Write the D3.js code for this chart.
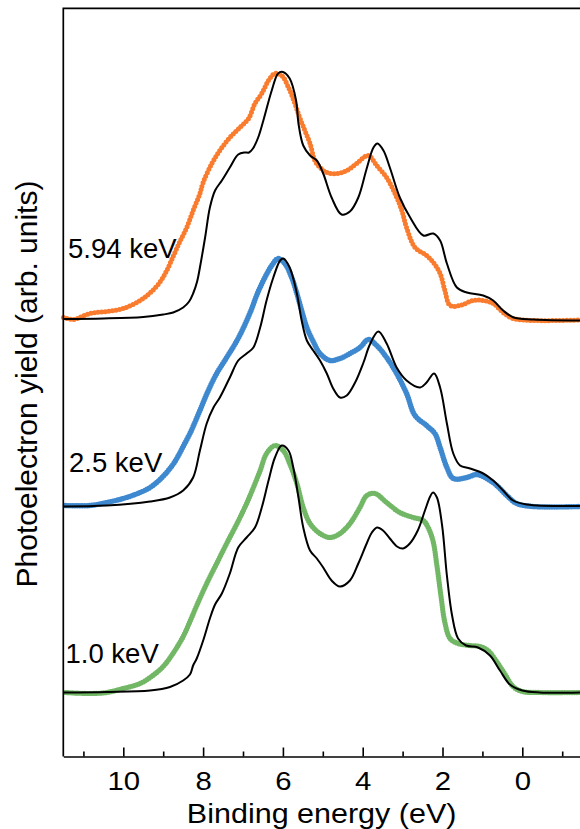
<!DOCTYPE html>
<html><head><meta charset="utf-8">
<script src="https://cdn.jsdelivr.net/npm/d3@7"></script>
<style>
body{margin:0;background:#fff}
svg{display:block}
text{font-family:"Liberation Sans",Arial,sans-serif;fill:#000}
</style>
</head><body>
<svg id="c" width="580" height="829"></svg>
<script>
// ---- data (binding energy in eV, yield in arb. units above each baseline) ----
const seriesLabels = ["5.94 keV", "2.5 keV", "1.0 keV"];
const offsets = [43.6, 25.0, 6.4];
const colors = ["#f97b2d", "#3d88cf", "#72b765"];
const majorTicks = [10, 8, 6, 4, 2, 0];
const minorTicks = [11, 9, 7, 5, 3, 1, -1];

const exp594 = [[11.50,0.3],[11.26,0.1],[10.83,0.7],[10.42,0.9],[10.00,1.2],[9.58,2.0],[9.33,2.75],[9.08,3.85],[8.91,5.0],[8.74,6.5],[8.58,7.9],[8.41,9.3],[8.25,11.0],[8.08,12.7],[8.00,13.8],[7.78,15.7],[7.58,17.0],[7.33,18.3],[7.08,19.3],[6.86,20.2],[6.70,21.7],[6.53,22.7],[6.36,24.0],[6.20,24.7],[6.03,24.5],[5.86,23.3],[5.70,21.7],[5.58,20.3],[5.45,19.0],[5.32,17.7],[5.20,16.0],[5.07,15.3],[4.90,14.8],[4.65,14.7],[4.40,15.0],[4.15,15.7],[3.86,16.5],[3.65,15.5],[3.40,14.3],[3.19,12.7],[3.02,11.0],[2.90,9.3],[2.69,7.3],[2.40,6.5],[2.23,5.8],[2.06,4.7],[1.94,3.0],[1.81,1.5],[1.56,1.5],[1.23,2.0],[0.98,2.0],[0.73,1.7],[0.48,0.8],[0.23,0.2],[-0.28,0.0],[-1.45,0.05]];
const theo594 = [[11.50,0.15],[10.50,0.2],[9.50,0.35],[9.00,0.6],[8.75,0.8],[8.50,1.3],[8.35,1.9],[8.25,2.7],[8.15,3.9],[8.08,5.3],[7.95,8.3],[7.83,11.3],[7.70,13.0],[7.53,14.0],[7.33,15.3],[7.12,16.6],[6.95,16.8],[6.85,16.8],[6.75,17.2],[6.62,18.3],[6.49,20.0],[6.28,23.0],[6.12,24.7],[6.00,24.85],[5.83,24.2],[5.67,22.0],[5.61,19.7],[5.49,17.5],[5.32,16.5],[5.15,16.0],[4.99,14.7],[4.78,12.3],[4.53,10.6],[4.32,10.9],[4.11,12.3],[3.90,15.2],[3.73,17.3],[3.63,17.7],[3.48,17.0],[3.32,15.3],[3.07,12.3],[2.81,10.3],[2.48,8.5],[2.23,8.7],[2.06,8.0],[1.89,5.7],[1.64,3.3],[1.39,2.8],[0.98,2.5],[0.73,2.0],[0.48,1.0],[0.23,0.33],[-0.28,0.1],[-1.45,0.0]];

const exp25 = [[11.45,0.1],[10.83,0.1],[10.42,0.4],[10.00,0.8],[9.58,1.4],[9.33,1.9],[9.08,2.7],[8.83,3.8],[8.66,4.8],[8.50,6.0],[8.33,7.3],[8.25,8.0],[8.08,9.6],[7.87,11.6],[7.66,13.3],[7.41,14.9],[7.15,16.6],[6.94,18.3],[6.77,19.9],[6.66,21.1],[6.49,22.6],[6.28,24.1],[6.12,24.8],[5.95,24.3],[5.78,22.9],[5.65,21.3],[5.53,19.6],[5.40,17.9],[5.24,16.5],[5.07,15.3],[4.82,14.6],[4.57,14.8],[4.32,15.3],[4.07,15.9],[3.86,16.7],[3.65,16.1],[3.40,14.9],[3.15,13.3],[2.90,11.3],[2.69,9.1],[2.40,8.1],[2.19,7.3],[2.06,5.9],[1.89,3.9],[1.73,2.8],[1.39,2.9],[1.14,3.2],[0.89,2.8],[0.64,2.1],[0.39,1.1],[0.14,0.3],[-0.28,0.0],[-1.45,0.0]];
const theo25 = [[11.50,0.0],[10.42,0.1],[9.33,0.5],[8.83,0.9],[8.50,1.6],[8.25,2.9],[8.08,5.6],[7.91,8.3],[7.74,9.9],[7.58,10.9],[7.33,12.9],[7.12,14.6],[6.91,15.3],[6.74,15.9],[6.57,17.9],[6.41,20.6],[6.24,22.9],[6.07,24.6],[5.99,24.8],[5.83,23.9],[5.65,21.3],[5.53,18.6],[5.40,16.6],[5.24,15.6],[5.07,14.6],[4.90,13.3],[4.74,11.8],[4.57,10.9],[4.40,11.1],[4.19,12.4],[3.98,14.4],[3.82,16.2],[3.61,17.5],[3.40,16.3],[3.15,13.9],[2.90,12.6],[2.56,11.9],[2.40,12.4],[2.21,13.3],[2.06,11.9],[1.89,8.3],[1.73,5.3],[1.56,4.1],[1.31,3.8],[0.98,3.3],[0.73,2.6],[0.48,1.6],[0.23,0.6],[-0.11,0.2],[-1.45,0.05]];

const exp10 = [[11.45,0.0],[10.83,-0.1],[10.42,0.0],[10.00,0.4],[9.58,0.9],[9.33,1.5],[9.00,2.6],[8.74,4.0],[8.50,5.6],[8.33,7.1],[8.16,8.7],[7.91,10.9],[7.66,12.9],[7.41,14.9],[7.15,16.9],[6.91,18.9],[6.74,20.5],[6.57,22.2],[6.41,23.9],[6.20,24.7],[5.99,24.2],[5.83,22.9],[5.65,20.9],[5.49,18.5],[5.32,16.9],[5.07,15.9],[4.82,15.5],[4.57,15.9],[4.32,16.9],[4.07,18.5],[3.90,19.7],[3.69,19.9],[3.40,19.0],[3.07,18.0],[2.73,17.5],[2.48,17.2],[2.36,16.5],[2.24,15.2],[2.14,12.7],[2.04,9.7],[1.94,7.0],[1.81,5.4],[1.61,4.9],[1.31,4.7],[1.06,4.6],[0.86,4.2],[0.66,3.2],[0.43,1.8],[0.23,0.6],[0.00,0.1],[-0.44,0.0],[-1.45,0.0]];
const theo10 = [[11.50,0.0],[10.42,0.05],[9.33,0.2],[8.83,0.55],[8.50,1.2],[8.33,1.8],[8.25,2.7],[8.16,3.4],[7.99,5.3],[7.83,7.4],[7.70,8.8],[7.53,9.9],[7.33,11.9],[7.12,14.5],[6.91,15.5],[6.70,16.5],[6.53,18.5],[6.36,21.2],[6.20,23.5],[6.03,24.7],[5.86,24.2],[5.74,22.5],[5.61,19.5],[5.49,16.5],[5.32,14.2],[5.15,13.4],[4.99,12.5],[4.78,11.2],[4.57,10.6],[4.32,11.2],[4.11,12.9],[3.90,14.9],[3.77,16.0],[3.64,16.5],[3.49,16.2],[3.32,15.4],[3.14,14.6],[2.99,14.4],[2.82,14.9],[2.62,16.2],[2.44,18.2],[2.31,19.6],[2.24,20.0],[2.14,19.5],[2.01,16.7],[1.89,11.7],[1.76,7.7],[1.61,5.4],[1.41,4.7],[1.11,4.5],[0.81,3.7],[0.56,2.2],[0.31,0.8],[0.00,0.2],[-0.44,0.0],[-1.45,0.0]];

const expSeries = [exp594, exp25, exp10];
const theoSeries = [theo594, theo25, theo10];

(function draw() {
  const svg = d3.select("#c");
  const mLeft = 63.3, mRight = 580, mTop = 8.3, mBottom = 756.5;
  const x = d3.scaleLinear().domain([11.504, -1.446]).range([mLeft, mRight]);
  const y = d3.scaleLinear().domain([0, 74.8]).range([mBottom, mTop + 0.2]);

  const plot = svg.append("g");

  const dashes = ["0 3.6", "0 2.4", "0 2.4"];
  const widths = [5.0, 5.4, 5.2];
  expSeries.forEach((s, i) => {
    const line = d3.line()
      .x(d => x(d[0]))
      .y(d => y(d[1] + offsets[i]))
      .curve(d3.curveCatmullRom.alpha(0.5));
    plot.append("path")
      .attr("d", line(s))
      .attr("fill", "none")
      .attr("stroke", colors[i])
      .attr("stroke-width", widths[i])
      .attr("stroke-linecap", "round")
      .attr("stroke-dasharray", dashes[i]);
  });

  theoSeries.forEach((s, i) => {
    const line = d3.line()
      .x(d => x(d[0]))
      .y(d => y(d[1] + offsets[i]))
      .curve(d3.curveCatmullRom.alpha(0.5));
    plot.append("path")
      .attr("d", line(s))
      .attr("fill", "none")
      .attr("stroke", "#000")
      .attr("stroke-width", 2)
      .attr("stroke-linejoin", "round");
  });

  svg.append("path")
    .attr("d", `M${mLeft},${mBottom}V${mTop}H${mRight + 5}`)
    .attr("fill", "none").attr("stroke", "#000").attr("stroke-width", 1.7);

  const xAxis = d3.axisBottom(x).tickValues(majorTicks).tickSizeInner(-9).tickSizeOuter(0).tickPadding(15)
    .tickFormat(d3.format("d"));
  const gx = svg.append("g").attr("transform", `translate(0,${mBottom})`).call(xAxis);
  gx.select(".domain").attr("stroke-width", 1.7);
  gx.selectAll(".tick line").attr("stroke-width", 1.6);
  gx.selectAll(".tick text")
    .attr("font-size", 25.5)
    .attr("font-family", "Liberation Sans, Arial, sans-serif")
    .attr("transform", "scale(1.15,1)");

  const xMinor = d3.axisBottom(x).tickValues(minorTicks).tickSizeInner(-5).tickSizeOuter(0).tickFormat("");
  const gm = svg.append("g").attr("transform", `translate(0,${mBottom})`).call(xMinor);
  gm.select(".domain").remove();
  gm.selectAll(".tick line").attr("stroke-width", 1.6);

  svg.append("text")
    .attr("transform", `translate(${(mLeft + mRight) / 2},822.5) scale(1.13,1)`)
    .attr("text-anchor", "middle")
    .attr("font-size", 27)
    .text("Binding energy (eV)");

  svg.append("text")
    .attr("transform", "translate(37,384) rotate(-90)")
    .attr("text-anchor", "middle")
    .attr("font-size", 30)
    .text("Photoelectron yield (arb. units)");

  const labelPos = [[68, 258], [69, 472], [65.5, 663]];
  seriesLabels.forEach((t, i) => {
    svg.append("text")
      .attr("x", labelPos[i][0])
      .attr("y", labelPos[i][1])
      .attr("font-size", 27.5)
      .text(t);
  });
})();
</script>
</body></html>
